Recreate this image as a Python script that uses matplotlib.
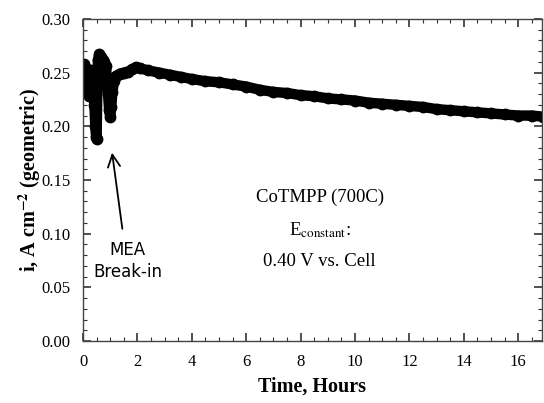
import matplotlib
matplotlib.use('Agg')
import matplotlib.pyplot as plt
from matplotlib.ticker import MultipleLocator, FormatStrFormatter

# values
hours = [0.00, 0.03, 0.08, 0.12, 0.15, 0.18, 0.22, 0.26, 0.30, 0.34,
         0.38, 0.42, 0.45, 0.48, 0.50, 0.53, 0.55, 0.60, 0.66, 0.72,
         0.78, 0.84, 0.88, 0.92, 0.96, 1.00, 1.04, 1.08, 1.14, 1.22,
         1.35, 1.50, 1.65, 1.80, 1.95, 2.10, 2.40, 2.80, 3.20, 3.60,
         4.00, 4.50, 5.00, 5.50, 6.00, 6.50, 7.00, 7.50, 8.00, 8.50,
         9.00, 9.50, 10.00, 10.50, 11.00, 11.50, 12.00, 12.50, 13.00, 13.50,
         14.00, 14.50, 15.00, 15.50, 16.00, 16.50, 16.90]
current = [0.257, 0.258, 0.255, 0.250, 0.240, 0.232, 0.228, 0.236, 0.252, 0.251,
           0.240, 0.220, 0.200, 0.190, 0.188, 0.240, 0.262, 0.267, 0.265, 0.262,
           0.260, 0.256, 0.245, 0.230, 0.215, 0.209, 0.218, 0.232, 0.242, 0.247,
           0.249, 0.250, 0.251, 0.253, 0.255, 0.254, 0.252, 0.250, 0.248, 0.246,
           0.244, 0.242, 0.241, 0.239, 0.237, 0.234, 0.232, 0.231, 0.229, 0.228,
           0.226, 0.225, 0.224, 0.222, 0.221, 0.220, 0.219, 0.218, 0.216, 0.215,
           0.214, 0.213, 0.212, 0.211, 0.210, 0.210, 0.209]

serif = 'Liberation Serif'
plt.rcParams['mathtext.fontset'] = 'stix'

fig = plt.figure(figsize=(5.44, 4.03), dpi=100)
ax = fig.add_axes([0.1526, 0.1538, 0.8434, 0.7992])

ax.plot(hours, current, color='black', lw=7.5, marker='o', ms=7.5,
        solid_capstyle='round', solid_joinstyle='round')

ax.set_xlim(0, 16.87)
ax.set_ylim(0, 0.30)
ax.xaxis.set_major_locator(MultipleLocator(2))
ax.xaxis.set_minor_locator(MultipleLocator(0.5))
ax.yaxis.set_major_locator(MultipleLocator(0.05))
ax.yaxis.set_minor_locator(MultipleLocator(0.01))
ax.yaxis.set_major_formatter(FormatStrFormatter('%.2f'))
ax.tick_params(which='both', direction='in', top=True, right=True,
               color='#333333', labelsize=12)
ax.tick_params(which='major', length=6, width=1.2)
ax.tick_params(axis='y', which='major', pad=9)
ax.tick_params(axis='x', which='major', pad=9)
ax.tick_params(which='minor', length=3, width=0.8)
for lab in ax.get_xticklabels() + ax.get_yticklabels():
    lab.set_fontfamily(serif)
for s in ax.spines.values():
    s.set_color('#444444')
    s.set_linewidth(1.0)

ax.set_xlabel('Time, Hours', fontfamily=serif, fontweight='bold',
              fontsize=14.5, labelpad=5)
ax.set_ylabel(r'i, A cm$^{\mathbf{-2}}$ (geometric)', fontfamily=serif,
              fontweight='bold', fontsize=14.5, labelpad=-1)

ax.text(8.7, 0.134, 'CoTMPP (700C)', fontfamily=serif, fontsize=13.5,
        ha='center', va='center')
ax.text(8.7, 0.103, r'E$_{\mathrm{constant}}$:', fontfamily=serif,
        fontsize=13.5, ha='center', va='center')
ax.text(8.7, 0.074, '0.40 V vs. Cell', fontfamily=serif, fontsize=13.5,
        ha='center', va='center')

ax.text(1.62, 0.085, 'MEA', fontfamily='DejaVu Sans', fontsize=12,
        ha='center', va='center')
ax.text(1.65, 0.064, 'Break-in', fontfamily='DejaVu Sans', fontsize=12,
        ha='center', va='center')
ax.annotate('', xy=(1.055, 0.178), xytext=(1.46, 0.102),
            arrowprops=dict(arrowstyle='->', lw=1.3, color='black',
                            mutation_scale=22))

fig.savefig('out.png', dpi=100)
